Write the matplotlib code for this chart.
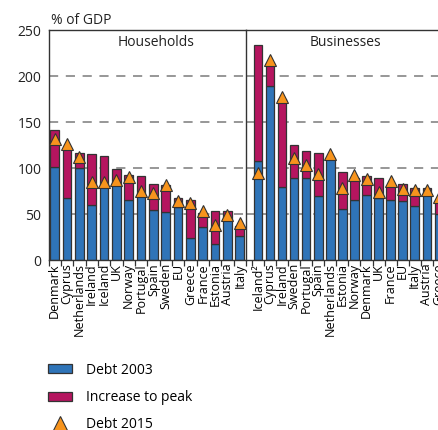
import numpy as np
import matplotlib
matplotlib.use('Agg')
import matplotlib.pyplot as plt
from matplotlib.patches import Patch
from matplotlib.lines import Line2D

plt.rcParams['font.family'] = ['Open Sans', 'DejaVu Sans']

# 家庭部门
hh_countries = ['Denmark', 'Cyprus', 'Netherlands', 'Ireland', 'Iceland', 'UK', 'Norway', 'Portugal',
                'Spain', 'Sweden', 'EU', 'Greece', 'France', 'Estonia', 'Austria', 'Italy']
hh_2003 = [101, 68, 100, 60, 80, 83, 66, 71, 55, 53, 58, 24, 36, 18, 45, 26]
hh_peak = [142, 121, 117, 116, 113, 99, 93, 92, 83, 82, 68, 66, 51, 54, 54, 37]
hh_2015 = [132, 126, 112, 85, 85, 87, 91, 75, 73, 82, 64, 62, 54, 38, 49, 41]

# 企业部门
bz_countries = ['Iceland²', 'Cyprus', 'Ireland', 'Sweden', 'Portugal', 'Spain', 'Netherlands', 'Estonia',
                'Norway', 'Denmark', 'UK', 'France', 'EU', 'Italy', 'Austria', 'Greece']
bz_2003 = [108, 189, 80, 90, 90, 70, 111, 56, 66, 71, 68, 66, 65, 59, 71, 50]
bz_peak = [234, 214, 175, 125, 119, 117, 111, 96, 89, 92, 90, 81, 83, 79, 79, 64]
bz_2015 = [95, 218, 178, 111, 104, 94, 116, 79, 93, 88, 74, 86, 78, 76, 76, 69]

panel_titles = ['Households', 'Businesses']
y_ticks = [0, 50, 100, 150, 200, 250]

c_blue = '#2F74B8'
c_mag = '#B5155F'
c_orange = '#F7941D'
c_edge = '#333333'

W, H = 438, 430
fig = plt.figure(figsize=(W / 100, H / 100), dpi=100)

# 每个柱子的像素宽度
slot_l = 12.34
slot_r = 12.05
ax1 = fig.add_axes([48.5 / W, 1 - 260.3 / H, 16 * slot_l / W, 230 / H])
right_span = 15.5 + 1.0
ax2 = fig.add_axes([246 / W, 1 - 260.3 / H, right_span * slot_r / W, 230 / H])


def draw_panel(ax, countries, d2003, peak, d2015, xmin, title, title_x):
    x = np.arange(len(countries))
    d2003 = np.array(d2003)
    peak = np.array(peak)
    ax.set_ylim(0, 250)
    ax.set_xlim(xmin, len(countries) - 0.5)
    for yv in y_ticks[1:-1]:
        ax.axhline(yv, color='#7a7a7a', lw=1.1, ls=(0, (6, 5)), zorder=0)
    ax.bar(x, d2003, width=0.7, color=c_blue, edgecolor=c_edge, linewidth=0.9, zorder=2)
    ax.bar(x, peak - d2003, bottom=d2003, width=0.7, color=c_mag, edgecolor=c_edge,
           linewidth=0.9, zorder=2)
    ax.plot(x, d2015, ls='none', marker='^', ms=8, color=c_orange, mec=c_edge, mew=0.8, zorder=3)
    ax.set_xticks(x)
    ax.set_xticklabels(countries, rotation=90, fontsize=9, va='top', ha='center')
    ax.tick_params(axis='x', which='major', length=0, pad=2)
    ax.set_xticks(np.arange(len(countries) + 1) - 0.5, minor=True)
    ax.tick_params(axis='x', which='minor', length=4, direction='out', color=c_edge, width=0.9)
    for sp in ax.spines.values():
        sp.set_color(c_edge)
        sp.set_linewidth(1.0)
    ax.text(title_x, 0.945, title, transform=ax.transAxes, ha='center', va='center', fontsize=10,
            color='#222222')


draw_panel(ax1, hh_countries, hh_2003, hh_peak, hh_2015, -0.5, panel_titles[0], 0.545)
draw_panel(ax2, bz_countries, bz_2003, bz_peak, bz_2015, -1.0, panel_titles[1], 0.498)

ax1.set_yticks(y_ticks)
ax1.tick_params(axis='y', length=0, pad=5, labelsize=10, labelcolor='#222222')
ax1.spines['right'].set_visible(False)
ax2.set_yticks(y_ticks)
ax2.tick_params(axis='y', length=0, labelleft=False)
ax2.spines['right'].set_visible(False)

fig.text(51 / W, 1 - 21 / H, '% of GDP', ha='left', va='center', fontsize=10, color='#222222')

handles = [Patch(facecolor=c_blue, edgecolor=c_edge, linewidth=0.9),
           Patch(facecolor=c_mag, edgecolor=c_edge, linewidth=0.9),
           Line2D([], [], ls='none', marker='^', ms=11, color=c_orange, mec=c_edge, mew=0.8)]
labels = ['Debt 2003', 'Increase to peak', 'Debt 2015']
fig.legend(handles, labels, loc='upper left', bbox_to_anchor=(35 / W, 1 - 350 / H), frameon=False,
           fontsize=10, handlelength=1.75, handleheight=0.6, handletextpad=1.0, labelspacing=0.9)

fig.savefig('out.png', dpi=100)
